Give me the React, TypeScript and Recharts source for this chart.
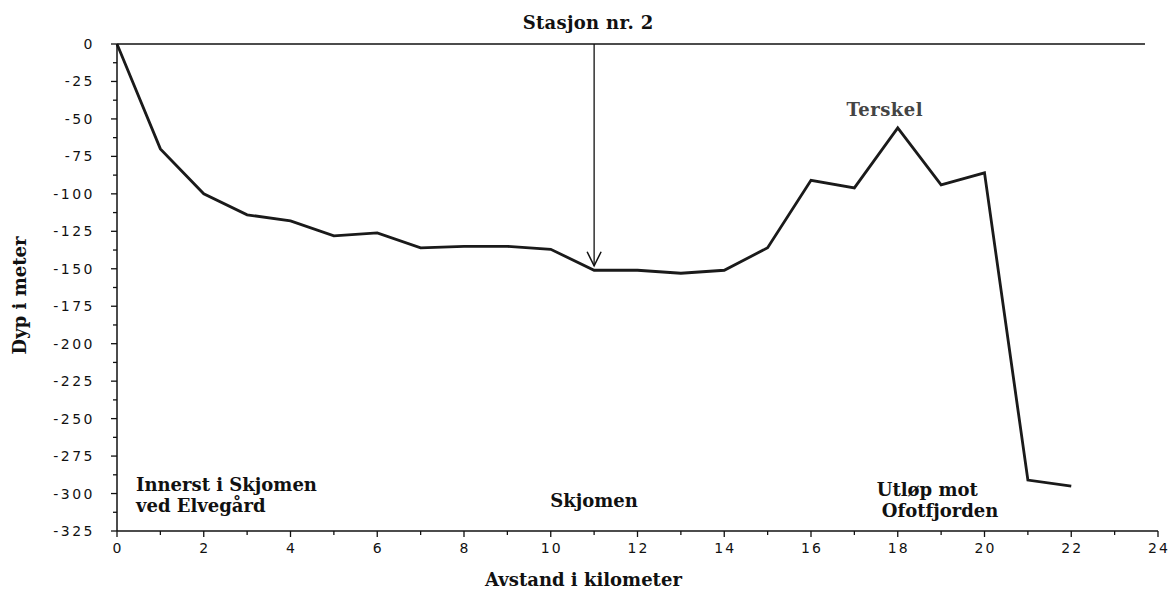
import React from 'react';
import { LineChart, Line, XAxis, YAxis, ReferenceLine, ReferenceDot, Label } from 'recharts';

// ---- data ----
const distanceKm = [0, 1, 2, 3, 4, 5, 6, 7, 8, 9, 10, 11, 12, 13, 14, 15, 16, 17, 18, 19, 20, 21, 22];
const depthM = [0, -70, -100, -114, -118, -128, -126, -136, -135, -135, -137, -151, -151, -153, -151, -136, -91, -96, -56, -94, -86, -291, -295];
const xTicks = [0, 1, 2, 3, 4, 5, 6, 7, 8, 9, 10, 11, 12, 13, 14, 15, 16, 17, 18, 19, 20, 21, 22, 23, 24];
const xTickLabels = [0, 2, 4, 6, 8, 10, 12, 14, 16, 18, 20, 22, 24];
const yTicks = [0, -12.5, -25, -37.5, -50, -62.5, -75, -87.5, -100, -112.5, -125, -137.5, -150, -162.5, -175, -187.5, -200, -212.5, -225, -237.5, -250, -262.5, -275, -287.5, -300, -312.5, -325];
const yTickLabels = [0, -25, -50, -75, -100, -125, -150, -175, -200, -225, -250, -275, -300, -325];

const stationLabel = 'Stasjon nr. 2';
const stationKm = 11;
const stationTipDepth = -148;
const surfaceEndKm = 23.7;

const annInnerst = ['Innerst i Skjomen', 'ved Elvegård'];
const annSkjomen = ['Skjomen'];
const annUtlop = ['Utløp mot', 'Ofotfjorden'];
const annTerskel = ['Terskel'];

const xTitle = 'Avstand i kilometer';
const yTitle = 'Dyp i meter';

const data = distanceKm.map((d, i) => ({ km: d, depth: depthM[i] }));

const SERIF = '"DejaVu Serif", "Liberation Serif", serif';
const SANS = '"DejaVu Sans", Verdana, sans-serif';

const XTick = (props: any) => {
  const { x, y, payload } = props;
  const v = payload.value;
  const major = xTickLabels.includes(v);
  return (
    <g>
      <line x1={x} x2={x} y1={y} y2={y + (major ? 6 : 4)} stroke="#111" strokeWidth={1.3} />
      {major && (
        <text x={x + 1} y={y + 22} textAnchor="middle" fontFamily={SANS} fontSize={14} letterSpacing={2} fill="#111">
          {String(v)}
        </text>
      )}
    </g>
  );
};

const YTick = (props: any) => {
  const { x, y, payload } = props;
  const v = payload.value;
  const major = yTickLabels.includes(v);
  return (
    <g>
      <line x1={x - (major ? 6 : 4)} x2={x} y1={y} y2={y} stroke="#111" strokeWidth={1.3} />
      {major && (
        <text x={x - 22} y={y + 5} textAnchor="end" fontFamily={SANS} fontSize={14} letterSpacing={2.5} fill="#111">
          {String(v)}
        </text>
      )}
    </g>
  );
};

const makeText = (
  lines: string[],
  anchor: string,
  dx: number,
  dy: number,
  color: string,
  lineDx: number[] = [],
  spacing = 0,
) => (p: any) => {
  const { cx, cy } = p;
  return (
    <g>
      {lines.map((t, i) => (
        <text
          key={i}
          x={cx + dx + (lineDx[i] || 0)}
          y={cy + dy + i * 21}
          textAnchor={anchor}
          fontFamily={SERIF}
          fontWeight="bold"
          fontSize={18}
          letterSpacing={spacing}
          fill={color}
        >
          {t}
        </text>
      ))}
    </g>
  );
};

const ArrowHead = (p: any) => {
  const { cx, cy } = p;
  return <path d={`M ${cx - 7} ${cy - 14} L ${cx} ${cy} L ${cx + 7} ${cy - 14}`} fill="none" stroke="#111" strokeWidth={1.5} />;
};

export default function App() {
  return (
    <div style={{ position: 'absolute', left: 0, top: 0, background: '#fff' }}>
      <LineChart width={1170} height={596} data={data} margin={{ top: 44, right: 12, bottom: 0, left: 0 }}>
        <XAxis
          dataKey="km"
          type="number"
          domain={[0, 24]}
          ticks={xTicks}
          interval={0}
          tick={<XTick />}
          tickSize={0}
          tickMargin={0}
          height={65}
          axisLine={{ stroke: '#111', strokeWidth: 1.5 }}
          tickLine={false}
        >
          <Label
            content={(p: any) => {
              const vb = p.viewBox;
              return (
                <text x={vb.x + vb.width / 2 - 54} y={vb.y + 55} textAnchor="middle" fontFamily={SERIF} fontWeight="bold" fontSize={18} fill="#111">
                  {xTitle}
                </text>
              );
            }}
          />
        </XAxis>
        <YAxis
          type="number"
          domain={[-325, 0]}
          ticks={yTicks}
          interval={0}
          tick={<YTick />}
          tickSize={0}
          tickMargin={0}
          width={117}
          axisLine={{ stroke: '#111', strokeWidth: 1.5 }}
          tickLine={false}
        >
          <Label
            content={(p: any) => {
              const vb = p.viewBox;
              const cy = vb.y + vb.height / 2 + 8;
              return (
                <text x={19} y={cy} transform={`rotate(-90 19 ${cy})`} textAnchor="middle" dominantBaseline="central" fontFamily={SERIF} fontWeight="bold" fontSize={18} fill="#111">
                  {yTitle}
                </text>
              );
            }}
          />
        </YAxis>
        <ReferenceLine segment={[{ x: 0, y: 0 }, { x: surfaceEndKm, y: 0 }]} stroke="#111" strokeWidth={1.3} ifOverflow="visible" />
        <ReferenceLine segment={[{ x: stationKm, y: 0 }, { x: stationKm, y: stationTipDepth }]} stroke="#111" strokeWidth={1.3} ifOverflow="visible" />
        <ReferenceDot x={stationKm} y={stationTipDepth} r={0} shape={ArrowHead} ifOverflow="visible" />
        <ReferenceDot x={stationKm} y={0} r={0} shape={makeText([stationLabel], 'middle', -6, -15, '#111', [], 0.3)} ifOverflow="visible" />
        <ReferenceDot x={18} y={-56} r={0} shape={makeText(annTerskel, 'middle', -13, -12, '#444', [], 0.5)} ifOverflow="visible" />
        <ReferenceDot x={0} y={-300} r={0} shape={makeText(annInnerst, 'start', 19, -3, '#111')} ifOverflow="visible" />
        <ReferenceDot x={11} y={-300} r={0} shape={makeText(annSkjomen, 'middle', 0, 13, '#111')} ifOverflow="visible" />
        <ReferenceDot x={18} y={-300} r={0} shape={makeText(annUtlop, 'start', -21, 2, '#111', [0, 5])} ifOverflow="visible" />
        <Line type="linear" dataKey="depth" stroke="#1a1a1a" strokeWidth={2.8} dot={false} isAnimationActive={false} />
      </LineChart>
    </div>
  );
}
